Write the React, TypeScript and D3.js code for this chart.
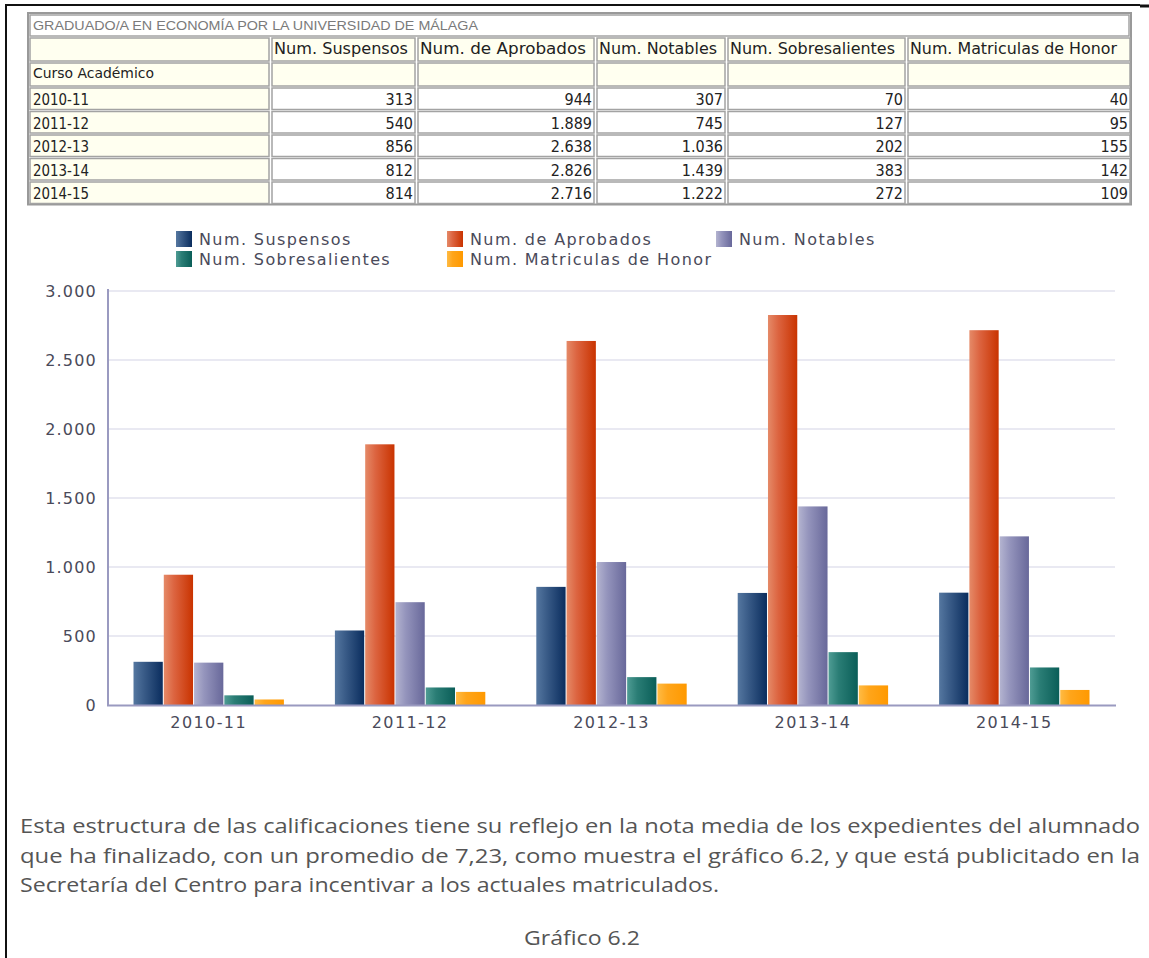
import React from "react";
import * as d3 from "d3";

const title = "GRADUADO/A EN ECONOMÍA POR LA UNIVERSIDAD DE MÁLAGA";
const rowHeader = "Curso Académico";
const categories = ["2010-11", "2011-12", "2012-13", "2013-14", "2014-15"];
const seriesNames = [
  "Num. Suspensos",
  "Num. de Aprobados",
  "Num. Notables",
  "Num. Sobresalientes",
  "Num. Matriculas de Honor",
];
const suspensos = [313, 540, 856, 812, 814];
const aprobados = [944, 1889, 2638, 2826, 2716];
const notables = [307, 745, 1036, 1439, 1222];
const sobresalientes = [70, 127, 202, 383, 272];
const matriculas = [40, 95, 155, 142, 109];
const yTicks = [0, 500, 1000, 1500, 2000, 2500, 3000];
const paragraph = [
  "Esta estructura de las calificaciones tiene su reflejo en la nota media de los expedientes del alumnado",
  "que ha finalizado, con un promedio de 7,23, como muestra el gráfico 6.2, y que está publicitado en la",
  "Secretaría del Centro para incentivar a los actuales matriculados.",
];
const caption = "Gráfico 6.2";

const seriesValues = [suspensos, aprobados, notables, sobresalientes, matriculas];
const gradients = [
  ["#5577a0", "#3a5c88", "#0a2d5e"],
  ["#e58a68", "#dc6440", "#c93300"],
  ["#b4b4d0", "#9494bc", "#68689a"],
  ["#4f9c94", "#2a7d75", "#0a5e58"],
  ["#ffbb44", "#ffa51a", "#ff9900"],
];

const fmt = (v: number) => d3.format(",")(v).replace(/,/g, ".");

export default function App() {
  const W = 1149;
  const H = 958;
  const x0 = d3.scaleBand<string>().domain(categories).range([108, 1115]);
  const x1 = d3
    .scaleBand<string>()
    .domain(seriesNames)
    .range([25, x0.bandwidth() - 25]);
  const y = d3.scaleLinear().domain([0, 3000]).range([705, 291]);

  // table geometry
  const colX = [28, 270, 416, 595, 726, 906, 1131];
  const rowY = [13, 37, 62, 87, 110.5, 134, 157.5, 181, 204.5];
  const cream = "#fffff0";
  const cellStroke = "#a3a3a3";
  const tableFont = "'DejaVu Sans Condensed', 'DejaVu Sans', sans-serif";
  const chartFont = "'DejaVu Sans', Verdana, sans-serif";

  const cells: React.ReactNode[] = [];
  cells.push(
    <rect key="title" x={colX[0] + 2} y={rowY[0] + 2} width={colX[6] - colX[0] - 4} height={rowY[1] - rowY[0] - 3}
      fill="#fff" stroke={cellStroke} strokeWidth={1.5} />
  );
  for (let r = 1; r < rowY.length - 1; r++) {
    for (let c = 0; c < colX.length - 1; c++) {
      const bg = r <= 2 || c === 0 ? cream : "#fff";
      cells.push(
        <rect key={`c${r}-${c}`} x={colX[c] + 2} y={rowY[r] + 1} width={colX[c + 1] - colX[c] - 3}
          height={rowY[r + 1] - rowY[r] - 2} fill={bg} stroke={cellStroke} strokeWidth={1.5} />
      );
    }
  }

  return (
    <svg width={W} height={H} style={{ position: "absolute", left: 0, top: 0, background: "#fff" }}>
      <defs>
        {gradients.map((g, i) => (
          <linearGradient key={i} id={`g${i}`} x1="0" x2="1" y1="0" y2="0">
            <stop offset="0" stopColor={g[0]} />
            <stop offset="0.35" stopColor={g[1]} />
            <stop offset="1" stopColor={g[2]} />
          </linearGradient>
        ))}
      </defs>
      {/* page borders */}
      <line x1={5} x2={1140} y1={5} y2={5} stroke="#111" strokeWidth={2} />
      <line x1={1140} x2={1149} y1={6} y2={6} stroke="#111" strokeWidth={3} />
      <line x1={6} x2={6} y1={4} y2={958} stroke="#111" strokeWidth={2} />

      {/* table */}
      <rect x={colX[0]} y={rowY[0]} width={colX[6] - colX[0]} height={rowY[8] - rowY[0]} fill="#fff"
        stroke="#999" strokeWidth={2} />
      {cells}
      <text x={33} y={30} fontFamily="'Liberation Sans', Arial, sans-serif" fontSize={13.5} fill="#7a7a7a"
        textLength={445} lengthAdjust="spacingAndGlyphs">{title}</text>
      {seriesNames.map((s, i) => (
        <text key={s} x={colX[i + 1] + 4} y={54} fontFamily={tableFont} fontSize={15.5} fill="#222"
          textLength={[134, 166, 118, 165, 207][i]} lengthAdjust="spacingAndGlyphs">{s}</text>
      ))}
      <text x={33} y={78} fontFamily={tableFont} fontSize={14} fill="#222" textLength={121}
        lengthAdjust="spacingAndGlyphs">{rowHeader}</text>
      {categories.map((c, r) => (
        <g key={c}>
          <text x={33} y={rowY[r + 3] + 18} fontFamily={tableFont} fontSize={15} fill="#222"
            textLength={56} lengthAdjust="spacingAndGlyphs">{c}</text>
          {seriesValues.map((vals, s) => (
            <text key={s} x={colX[s + 2] - 3} y={rowY[r + 3] + 18} textAnchor="end" fontFamily={tableFont}
              fontSize={16} fill="#222">{fmt(vals[r])}</text>
          ))}
        </g>
      ))}

      {/* legend */}
      {seriesNames.map((s, i) => {
        const col = i < 3 ? i : i - 3;
        const row = i < 3 ? 0 : 1;
        const lx = [176, 447, 716][col];
        const ly = 231 + row * 20;
        return (
          <g key={s}>
            <rect x={lx} y={ly} width={16} height={16} fill={`url(#g${i})`} />
            <text x={lx + 23} y={ly + 14} fontFamily={chartFont} fontSize={16}
              letterSpacing={1.4} fill="#4a4a5a">{s}</text>
          </g>
        );
      })}

      {/* grid */}
      {yTicks.map((t) => (
        <g key={t}>
          {t > 0 && (
            <line x1={108} x2={1115} y1={y(t)} y2={y(t)} stroke="#e2e2ee" strokeWidth={1.5} />
          )}
          <text x={97} y={y(t) + 6} textAnchor="end" fontFamily={chartFont} fontSize={16}
            letterSpacing={1.2} fill="#4a4a5a">{fmt(t)}</text>
        </g>
      ))}

      {/* bars */}
      {categories.map((c, ci) => (
        <g key={c} transform={`translate(${x0(c)},0)`}>
          {seriesNames.map((s, si) => {
            const v = seriesValues[si][ci];
            return (
              <rect key={s} x={x1(s)! + 0.5} y={y(v)} width={x1.bandwidth() - 1} height={y(0) - y(v)}
                fill={`url(#g${si})`} />
            );
          })}
        </g>
      ))}

      {/* axes */}
      <line x1={108} x2={108} y1={289} y2={706} stroke="#9a9ac0" strokeWidth={2} />
      <line x1={107} x2={1116} y1={705.5} y2={705.5} stroke="#9a9ac0" strokeWidth={2} />
      {categories.map((c) => (
        <text key={c} x={x0(c)! + x0.bandwidth() / 2} y={728} textAnchor="middle"
          fontFamily={chartFont} fontSize={16} letterSpacing={1.4} fill="#4a4a5a">{c}</text>
      ))}

      {/* paragraph */}
      {paragraph.map((line, i) => (
        <text key={i} x={20} y={833 + i * 29.5} fontFamily="'Open Sans', 'Noto Sans', sans-serif" fontSize={20}
          fill="#555" textLength={i < 2 ? 1120 : 699} lengthAdjust="spacingAndGlyphs">{line}</text>
      ))}
      <text x={524} y={945} fontFamily="'Open Sans', 'Noto Sans', sans-serif" fontSize={20} fill="#555"
        textLength={116} lengthAdjust="spacingAndGlyphs">{caption}</text>
    </svg>
  );
}
